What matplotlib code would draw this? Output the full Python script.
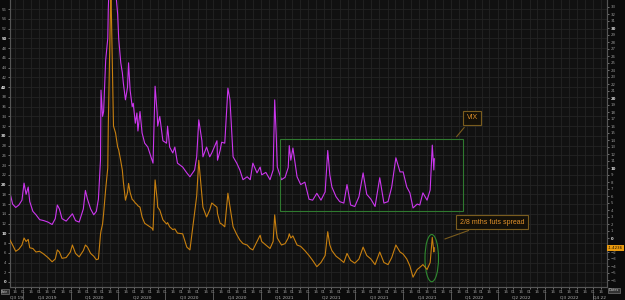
import numpy as np
import pandas as pd
import matplotlib
matplotlib.use("Agg")
import matplotlib.pyplot as plt
import matplotlib.dates as mdates
import matplotlib.transforms as mtrans
from matplotlib.patches import Rectangle, Ellipse

# VIX (left axis) and 2/8 month futures spread (right axis)
dates = [
    "2019-09-06", "2019-09-11", "2019-09-17", "2019-09-23", "2019-09-29", "2019-10-03",
    "2019-10-07", "2019-10-11", "2019-10-14", "2019-10-20", "2019-10-26", "2019-11-02",
    "2019-11-10", "2019-11-18", "2019-11-26", "2019-12-02", "2019-12-06", "2019-12-10",
    "2019-12-15", "2019-12-23", "2019-12-31", "2020-01-04", "2020-01-10", "2020-01-17",
    "2020-01-25", "2020-01-29", "2020-02-02", "2020-02-08", "2020-02-14", "2020-02-19",
    "2020-02-23", "2020-02-27", "2020-02-28", "2020-03-02", "2020-03-04", "2020-03-08",
    "2020-03-12", "2020-03-13", "2020-03-15", "2020-03-18", "2020-03-23", "2020-03-27",
    "2020-03-31", "2020-04-02", "2020-04-06", "2020-04-09", "2020-04-11", "2020-04-15",
    "2020-04-19", "2020-04-21", "2020-04-24", "2020-04-28", "2020-04-30", "2020-05-04",
    "2020-05-07", "2020-05-09", "2020-05-13", "2020-05-17", "2020-05-22", "2020-05-28",
    "2020-06-05", "2020-06-07", "2020-06-11", "2020-06-15", "2020-06-16", "2020-06-20",
    "2020-06-26", "2020-07-03", "2020-07-05", "2020-07-09", "2020-07-15", "2020-07-19",
    "2020-07-24", "2020-08-03", "2020-08-11", "2020-08-17", "2020-08-26", "2020-08-30",
    "2020-09-03", "2020-09-09", "2020-09-11", "2020-09-18", "2020-09-24", "2020-09-28",
    "2020-10-08", "2020-10-09", "2020-10-14", "2020-10-17", "2020-10-23", "2020-10-29",
    "2020-11-02", "2020-11-08", "2020-11-15", "2020-11-21", "2020-11-27", "2020-12-05",
    "2020-12-11", "2020-12-16", "2020-12-24", "2020-12-30", "2021-01-02", "2021-01-10",
    "2021-01-18", "2021-01-24", "2021-01-27", "2021-01-30", "2021-02-01", "2021-02-09",
    "2021-02-16", "2021-02-22", "2021-02-24", "2021-02-27", "2021-03-03", "2021-03-11",
    "2021-03-18", "2021-03-26", "2021-04-03", "2021-04-10", "2021-04-18", "2021-04-26",
    "2021-05-04", "2021-05-09", "2021-05-13", "2021-05-17", "2021-05-25", "2021-06-01",
    "2021-06-09", "2021-06-15", "2021-06-22", "2021-06-30", "2021-07-08", "2021-07-16",
    "2021-07-23", "2021-07-31", "2021-08-08", "2021-08-17", "2021-08-25", "2021-09-02",
    "2021-09-09", "2021-09-17", "2021-09-25", "2021-10-01", "2021-10-08", "2021-10-14",
    "2021-10-20", "2021-10-28", "2021-11-02", "2021-11-08", "2021-11-16", "2021-11-22",
    "2021-11-26", "2021-11-29", "2021-11-30",
]
vix = [
    18.3, 16.0, 15.3, 15.8, 16.8, 20.3,
    18.0, 19.5, 16.5, 14.5, 13.8, 12.8,
    12.6, 12.3, 11.8, 13.0, 15.8, 15.0,
    13.0, 12.5, 13.5, 14.0, 12.6, 12.3,
    15.0, 18.8, 17.0, 15.0, 13.8, 14.5,
    17.0, 25.0, 39.4, 34.0, 35.0, 45.6,
    50.0, 56.0, 62.0, 70.0, 65.0, 60.0,
    55.0, 50.0, 45.0, 43.0, 40.8, 37.4,
    40.0, 45.0, 39.4, 36.0, 36.7, 32.6,
    34.7, 31.0, 35.0, 30.6, 28.5, 27.7,
    25.0, 24.4, 40.2, 34.7, 32.0, 34.0,
    29.0, 28.5, 32.0, 27.7, 26.5, 27.7,
    24.4, 23.6, 22.4, 21.6, 23.0, 25.7,
    33.3, 29.0, 25.7, 27.7, 25.7, 26.5,
    29.0, 25.0, 27.0, 28.7, 28.5, 39.8,
    37.4, 25.7, 24.4, 23.0, 21.0, 21.6,
    21.0, 24.4, 22.4, 23.6, 22.0, 22.5,
    21.0, 23.0, 37.4, 30.0, 23.6, 21.0,
    21.5, 23.5, 28.0, 25.0, 27.5, 21.6,
    20.0, 20.5, 17.0, 16.8, 18.2, 16.8,
    18.5, 27.0, 22.0, 19.5, 17.5, 16.5,
    16.2, 20.0, 15.8, 15.5, 17.5, 22.4,
    18.0, 17.0, 15.5, 21.4, 16.2, 16.5,
    19.5, 25.5, 22.6, 22.6, 19.5, 18.3,
    15.2, 16.0, 15.8, 18.3, 16.8, 18.9,
    28.1, 23.0, 25.3,
]
spread = [
    -0.3, -1.0, -1.9, -1.6, -1.0, 0.0,
    -0.5, -0.2, -1.4, -1.5, -2.0, -1.9,
    -2.3, -2.8, -3.4, -3.0, -1.7, -2.0,
    -2.9, -2.8, -2.0, -1.0, -2.2, -2.7,
    -1.8, -1.0, -1.3, -2.2, -2.6, -3.1,
    -3.0, 0.5, 1.0, 2.0, 3.5, 7.0,
    10.0, 16.0, 24.0, 36.0, 16.0, 15.0,
    13.0, 12.6, 11.0, 9.7, 8.0, 5.4,
    6.5, 7.8, 6.5, 5.5, 5.4, 5.0,
    4.8, 4.6, 4.4, 3.0, 2.1, 1.8,
    1.4, 1.1, 8.3, 5.5, 4.4, 4.0,
    2.6, 2.0, 2.2, 1.6, 1.2, 1.3,
    0.7, 0.6, -1.3, -1.7, 3.6, 6.0,
    11.1, 6.0, 4.4, 3.0, 4.0, 5.0,
    4.4, 3.5, 2.1, 2.0, 1.6, 6.4,
    4.5, 1.6, 0.5, -0.3, -0.8, -1.0,
    -1.5, -1.7, -0.5, 0.4, -0.5, -1.0,
    -1.5, -0.5, 3.3, 1.0, 0.0, -1.0,
    -0.8, 0.0, 0.6, 0.0, 0.3, -1.0,
    -1.2, -1.8, -2.5, -3.2, -4.1, -3.5,
    -2.5, 0.9, -1.0, -1.8, -2.6, -3.0,
    -3.5, -2.2, -3.2, -3.6, -3.0, -1.3,
    -2.5, -3.0, -3.8, -2.0, -3.5, -3.8,
    -2.8, -1.0, -2.0, -2.3, -3.0, -4.0,
    -5.6, -4.5, -4.2, -3.8, -4.5, -3.5,
    0.1, -2.0, -1.4,
]
quarters = ["Q3 19", "Q4 2019", "Q1 2020", "Q2 2020", "Q3 2020", "Q4 2020", "Q1 2021",
            "Q2 2021", "Q3 2021", "Q4 2021", "Q1 2022", "Q2 2022", "Q3 2022", "Q4 22"]
quarter_starts = pd.date_range("2019-07-01", "2022-10-01", freq="QS")
left_ticks = list(range(0, 58, 2))
right_ticks = [t for t in range(-6, 34) if t != -1]

magenta = "#cc36ee"
orange = "#c8800f"
tick_col = "#9a9a9a"

d = pd.to_datetime(dates)
x0, x1 = pd.Timestamp("2019-09-06"), pd.Timestamp("2022-10-28")

fig = plt.figure(figsize=(6.25, 3), dpi=100, facecolor="#0b0b0b")
ax = fig.add_axes([10 / 625, 13 / 300, 597 / 625, 287 / 300])
ax.set_facecolor("#111111")
ax2 = ax.twinx()

ax.plot(d, vix, color=magenta, lw=0.8, zorder=3)
ax2.plot(d, spread, color=orange, lw=0.8, zorder=3)

ax.set_xlim(x0, x1)
ax.set_ylim(-1.03, 57.9)
ax2.set_ylim(-7.0, 34)

ax.set_yticks(left_ticks)
ax2.set_yticks(right_ticks)
ax.xaxis.set_major_locator(mdates.DayLocator(bymonthday=[1, 16]))
ax.xaxis.set_major_formatter(mdates.DateFormatter("%d"))

ax.grid(True, color="#242424", lw=0.6)
for a in (ax, ax2):
    for s in a.spines.values():
        s.set_color("#555555")
        s.set_linewidth(0.8)
    a.spines["top"].set_visible(False)
ax.tick_params(axis="both", colors=tick_col, labelsize=2.8, length=1.5, width=0.5, pad=1)
ax2.tick_params(axis="y", colors=tick_col, labelsize=2.8, length=1.5, width=0.5, pad=1)
for lab, v in zip(ax.get_yticklabels(), left_ticks):
    if v % 10 == 0:
        lab.set_color("#e0e0e0")
        lab.set_fontweight("bold")
for lab, v in zip(ax2.get_yticklabels(), right_ticks):
    if v % 10 == 0:
        lab.set_color("#e0e0e0")
        lab.set_fontweight("bold")

# quarter labels along the bottom
trans = mtrans.blended_transform_factory(ax.transData, ax.transAxes)
for i, q in enumerate(quarters):
    qs = quarter_starts[i]
    qe = quarter_starts[i + 1] if i + 1 < len(quarter_starts) else qs + pd.offsets.QuarterBegin(startingMonth=1)
    a, b = max(qs, x0), min(qe, x1)
    mid = a + (b - a) / 2
    ax.text(mid, -0.037, q, transform=trans, ha="center", va="center",
            fontsize=3.2, color="#b0b0b0", clip_on=False)
    if qs > x0:
        ax.plot([qs, qs], [-0.02, -0.05], transform=trans, color="#777777",
                lw=0.5, clip_on=False)

# green range box and ellipse
ax.add_patch(Rectangle((mdates.date2num(pd.Timestamp("2021-02-06")), 14.6),
                       mdates.date2num(pd.Timestamp("2022-01-24")) - mdates.date2num(pd.Timestamp("2021-02-06")),
                       14.8, fill=False, ec="#2f7a2f", lw=0.8, zorder=4))
ax.add_patch(Ellipse((mdates.date2num(pd.Timestamp("2021-11-25")), 4.9), 26, 9.7,
                     fill=False, ec="#2f8a2f", lw=0.8, zorder=4))

box = dict(boxstyle="square,pad=0.5", fc="#141008", ec="#7a5c1e", lw=0.8)
ax.annotate("VIX", xy=(0.745, 0.516), xytext=(0.774, 0.589), xycoords="axes fraction",
            ha="center", va="center", fontsize=5, color="#e0902a",
            family="Liberation Sans", bbox=box,
            arrowprops=dict(arrowstyle="-", color="#7a5c1e", lw=0.8))
ax.annotate("2/8 mths futs spread", xy=(0.724, 0.164), xytext=(0.807, 0.226),
            xycoords="axes fraction", ha="center", va="center", fontsize=5,
            color="#e0902a", family="Liberation Sans", bbox=box,
            arrowprops=dict(arrowstyle="-", color="#7a5c1e", lw=0.8))

# last value tags
ax.text(-0.002, vix[-1], "25.30", transform=trans, ha="right", va="center", fontsize=2.5,
        color="white", bbox=dict(boxstyle="square,pad=0.2", fc="#b02ad0", ec="none"), clip_on=False)
trans2 = mtrans.blended_transform_factory(ax2.transAxes, ax2.transData)
ax2.text(1.002, spread[-1], "-1.4236", transform=trans2, ha="left", va="center", fontsize=2.8,
         color="#1a1000", bbox=dict(boxstyle="square,pad=0.3", fc="#e89a10", ec="none"), clip_on=False)
ax.text(-0.003, -0.01, "Date", transform=ax.transAxes, ha="right", va="top", fontsize=2.2,
        color="#cccccc", bbox=dict(boxstyle="square,pad=0.15", fc="#333333", ec="#888888", lw=0.4),
        clip_on=False)
ax2.text(1.003, -0.005, "Dates", transform=ax2.transAxes, ha="left", va="top", fontsize=2.5,
         color="#cccccc", bbox=dict(boxstyle="square,pad=0.2", fc="#333333", ec="#888888", lw=0.4),
         clip_on=False)

fig.savefig("out.png", dpi=100, facecolor=fig.get_facecolor())
